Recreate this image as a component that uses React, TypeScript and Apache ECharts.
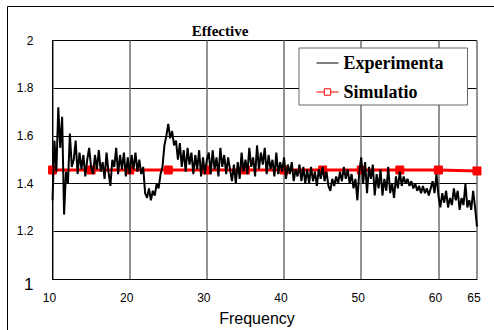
import React, { useEffect, useRef } from "react";
import * as echarts from "echarts";

const freqStart = 10;
const freqStep = 0.25;
const experimental: number[] = [
  1.33, 1.58, 1.45, 1.72, 1.55, 1.68, 1.27, 1.45, 1.40, 1.61, 1.47, 1.50, 1.58, 1.44, 1.53, 1.46,
  1.52, 1.43, 1.50, 1.55, 1.47, 1.44, 1.52, 1.46, 1.54, 1.45, 1.49, 1.42, 1.53, 1.45, 1.39, 1.50,
  1.47, 1.55, 1.44, 1.52, 1.46, 1.53, 1.43, 1.51, 1.44, 1.52, 1.46, 1.53, 1.45, 1.50, 1.44, 1.47,
  1.36, 1.34, 1.38, 1.33, 1.37, 1.35, 1.40, 1.38, 1.44, 1.47, 1.56, 1.60, 1.65, 1.59, 1.62, 1.56,
  1.58, 1.50, 1.57, 1.47, 1.54, 1.45, 1.55, 1.48, 1.53, 1.44, 1.52, 1.46, 1.54, 1.43, 1.51, 1.44,
  1.50, 1.53, 1.44, 1.54, 1.46, 1.51, 1.43, 1.55, 1.47, 1.52, 1.44, 1.51, 1.46, 1.41, 1.48, 1.40,
  1.49, 1.42, 1.53, 1.45, 1.50, 1.44, 1.55, 1.47, 1.51, 1.43, 1.56, 1.46, 1.53, 1.48, 1.55, 1.44,
  1.52, 1.46, 1.50, 1.43, 1.53, 1.44, 1.49, 1.45, 1.51, 1.42, 1.48, 1.44, 1.49, 1.41, 1.46, 1.43,
  1.48, 1.41, 1.47, 1.40, 1.46, 1.40, 1.47, 1.41, 1.45, 1.39, 1.46, 1.42, 1.47, 1.41, 1.45, 1.39,
  1.37, 1.42, 1.39, 1.43, 1.40, 1.45, 1.41, 1.47, 1.42, 1.46, 1.40, 1.44, 1.38, 1.42, 1.33, 1.45,
  1.51, 1.40, 1.49, 1.36, 1.47, 1.42, 1.48, 1.35, 1.44, 1.38, 1.46, 1.35, 1.42, 1.37, 1.47, 1.36,
  1.40, 1.34, 1.43, 1.38, 1.45, 1.39, 1.43, 1.40, 1.42, 1.39, 1.41, 1.38, 1.40, 1.37, 1.39, 1.36,
  1.39, 1.36, 1.38, 1.35, 1.38, 1.41, 1.36, 1.44, 1.35, 1.30, 1.36, 1.32, 1.37, 1.30, 1.34, 1.31,
  1.38, 1.33, 1.37, 1.29, 1.34, 1.31, 1.40, 1.30, 1.33, 1.29, 1.37, 1.30, 1.22,
];
const simFreq: number[] = [10, 15, 20, 25, 30, 35, 40, 45, 50, 55, 60, 65];
const simValues: number[] = [1.457, 1.457, 1.457, 1.457, 1.457, 1.457, 1.457, 1.457, 1.457, 1.457, 1.457, 1.453];
const seriesNames = ["Experimenta", "Simulatio"];
const titleText = "Effective";
const xAxisTitle = "Frequency";

export default function App() {
  const ref = useRef<HTMLDivElement>(null);
  useEffect(() => {
    document.body.style.margin = "0";
    const chart = echarts.init(ref.current!, undefined, { renderer: "svg" });
    const expData = experimental.map((v, i) => [freqStart + i * freqStep, v]);
    const simData = simFreq.map((f, i) => [f, simValues[i]]);
    chart.setOption({
      animation: false,
      backgroundColor: "#fff",
      grid: { left: 52.5, top: 40.5, right: 17, bottom: 51, containLabel: false },
      xAxis: {
        type: "value",
        min: 10,
        max: 65,
        interval: 10,
        axisLine: { show: true, lineStyle: { color: "#000", width: 1 } },
        axisTick: { show: false },
        axisLabel: {
          color: "#000",
          fontFamily: "Liberation Sans",
          fontSize: 12,
          margin: 13,
          padding: [0, 6, 0, 0],
          showMaxLabel: true,
        },
        splitLine: { show: true, lineStyle: { color: "#6e6e6e", width: 1.5 } },
      },
      yAxis: {
        type: "value",
        min: 1,
        max: 2,
        interval: 0.2,
        axisLine: { show: true, lineStyle: { color: "#000", width: 1 } },
        axisTick: { show: false },
        axisLabel: {
          color: "#000",
          fontFamily: "Liberation Sans",
          fontSize: 12,
          margin: 19,
          formatter: (v: number) => (v === 1 ? "{big|1}" : String(Math.round(v * 10) / 10)),
          rich: { big: { fontSize: 17, fontFamily: "Liberation Sans", color: "#000", padding: [10, 0, 0, 0] } },
        },
        splitLine: { show: true, lineStyle: { color: "#000", width: 1 } },
      },
      legend: {
        orient: "vertical",
        left: 299,
        top: 48,
        padding: [6, 24, 4, 17],
        itemWidth: 22,
        itemHeight: 8,
        itemGap: 11,
        backgroundColor: "#fff",
        borderColor: "#666",
        borderWidth: 1,
        textStyle: { fontFamily: "Liberation Serif", fontWeight: "bold", fontSize: 18, color: "#000" },
        data: [
          { name: seriesNames[0], lineStyle: { width: 1 }, itemStyle: { opacity: 0 } },
          {
            name: seriesNames[1],
            lineStyle: { width: 1 },
            itemStyle: { color: "#fff", borderColor: "#ff0000", borderWidth: 1 },
          },
        ],
      },
      graphic: [
        { type: "line", shape: { x1: 7.5, y1: 6.5, x2: 494, y2: 6.5 }, style: { stroke: "#000", lineWidth: 1 } },
        { type: "line", shape: { x1: 7.5, y1: 6.5, x2: 7.5, y2: 330 }, style: { stroke: "#000", lineWidth: 1 } },
        {
          type: "text",
          x: 220,
          y: 31,
          style: {
            text: titleText,
            fontFamily: "Liberation Serif",
            fontWeight: "bold",
            fontSize: 15,
            fill: "#000",
            align: "center",
            verticalAlign: "middle",
          },
        },
        {
          type: "text",
          x: 257,
          y: 318,
          style: {
            text: xAxisTitle,
            fontFamily: "Liberation Sans",
            fontSize: 16,
            fill: "#000",
            align: "center",
            verticalAlign: "middle",
          },
        },
      ],
      series: [
        {
          name: seriesNames[1],
          type: "line",
          data: simData,
          symbol: "rect",
          symbolSize: 8,
          showSymbol: true,
          lineStyle: { color: "#ff0000", width: 3 },
          itemStyle: { color: "#ff0000", borderColor: "#ff0000" },
          z: 2,
        },
        {
          name: seriesNames[0],
          type: "line",
          data: expData,
          symbol: "none",
          showSymbol: false,
          lineStyle: { color: "#000", width: 2 },
          itemStyle: { color: "#000" },
          z: 3,
        },
      ],
    });
    return () => chart.dispose();
  }, []);
  return <div ref={ref} style={{ position: "fixed", left: 0, top: 0, width: 494, height: 330 }} />;
}
